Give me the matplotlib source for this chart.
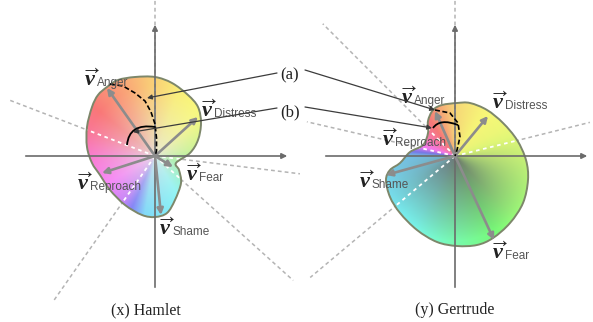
import numpy as np
import matplotlib.pyplot as plt
from matplotlib.path import Path
from matplotlib.patches import PathPatch, ConnectionPatch
from matplotlib.colors import hsv_to_rgb

plt.rcParams['mathtext.fontset'] = 'custom'
plt.rcParams['mathtext.it'] = 'Liberation Serif:italic:bold'
plt.rcParams['mathtext.rm'] = 'Liberation Serif'

emotions = ['Anger', 'Distress', 'Reproach', 'Fear', 'Shame']

# emotion vectors (x, y) from each character's origin; None = not drawn
hamlet_vectors = [(-48, 68), (43, 39), (-53, -17), (18, -11), (6, -59)]
gertrude_vectors = [(-20, 45), (33, 40), None, (39, -84), (-69, -19)]

# where each vector label starts (left edge of the v, vertical centre)
hamlet_labels = [(-71, 77), (46, 46), (-78, -27), (31, -18), (4, -72)]
gertrude_labels = [(-54, 59), (37, 54), (-73, 17), (37, -96), (-96, -25)]

# outline of the combined emotion shape
hamlet_outline = [(-48, 69), (-37, 76), (-20, 79), (0, 79), (17, 73), (33, 61),
                  (43, 49), (46, 33), (43, 16), (35, 3), (21, -7), (24, -14),
                  (26, -27), (20, -44), (12, -57), (0, -61), (-13, -59),
                  (-30, -49), (-45, -34), (-55, -19), (-63, -7), (-68, 9),
                  (-68, 29), (-63, 49), (-57, 61)]
gertrude_outline = [(-22, 46), (-13, 51), (2, 53), (15, 53), (32, 46), (48, 33),
                    (62, 16), (71, -4), (73, -24), (68, -47), (55, -67),
                    (38, -82), (22, -89), (2, -90), (-18, -86), (-38, -74),
                    (-55, -57), (-65, -41), (-69, -24), (-65, -14), (-55, -7),
                    (-45, 4), (-32, 11), (-27, 23), (-27, 35)]

# (a) dashed lobe edge and (b) rotation arc (start, bend, end)
hamlet_lobe = [(-45, 72), (-32, 70), (-20, 63), (-10, 55), (-4, 44), (0, 32),
               (1.5, 18), (1.5, 5), (0, 0)]
gertrude_lobe = [(-20, 46), (-5, 43), (3, 33), (5, 19), (2, 6), (0, 0)]
hamlet_arc = [(0, 29), (-26, 33), (-28, 11)]
gertrude_arc = [(3, 31), (-15, 38), (-22, 28)]

# directions of the dotted reference lines (degrees, length)
hamlet_rays = [(159, 158), (-7, 146), (-42, 186), (-125, 176), (90, 156)]
gertrude_rays = [(135, 187), (167, 152), (14, 139), (-140, 189), (90, 156)]

titles = ['(x) Hamlet', '(y) Gertrude']

# hue around the wheel for each panel
hamlet_hue = ([-180, -150, -125, -100, -60, -20, 10, 40, 70, 95, 115, 135, 160, 180],
              [320, 300, 275, 195, 180, 130, 85, 62, 55, 38, 20, 5, -15, -40])
gertrude_hue = ([-180, -150, -120, -90, -45, 0, 30, 60, 90, 110, 125, 150, 165, 180],
                [200, 188, 175, 145, 105, 80, 65, 58, 45, 20, 0, -30, -60, -160])

AXIS = '#6b6b6b'
VEC = '#8c8c8c'
EDGE = '#7d876a'


def smooth_path(pts):
    p = np.array(pts, float)
    n = len(p)
    verts = [p[0]]
    codes = [Path.MOVETO]
    for i in range(n):
        p0, p1, p2, p3 = p[i - 1], p[i], p[(i + 1) % n], p[(i + 2) % n]
        verts += [p1 + (p2 - p0) / 6, p2 - (p3 - p1) / 6, p2]
        codes += [Path.CURVE4] * 3
    return Path(verts, codes)


def draw_panel(ax, vectors, labels, outline, lobe, arc, rays, hue, dark, title):
    # dotted reference lines under the shape
    for ang, length in rays:
        a = np.radians(ang)
        ax.plot([0, length * np.cos(a)], [0, length * np.sin(a)], color='#b4b4b4',
                lw=1.1, dashes=(2.5, 2), zorder=1)

    # coloured emotion shape
    path = smooth_path(outline)
    g = np.linspace(-110, 110, 441)
    X, Y = np.meshgrid(g, g)
    th = np.degrees(np.arctan2(Y, X))
    r = np.hypot(X, Y)
    h = np.mod(np.interp(th, hue[0], hue[1]), 360) / 360
    rgb = hsv_to_rgb(np.dstack([h, np.full_like(h, 0.52), np.full_like(h, 0.98)]))
    if dark:
        # shadow sits in the lower half, around the origin
        w = np.clip(0.35 - 0.9 * np.sin(np.radians(th)), 0.05, 1)
        t = np.clip(r / 85, 0, 1)
        d = ((1 - t) ** 0.9 * w)[..., None] * 0.9
        rgb = rgb * (1 - d) + d * 0.42
    else:
        t = np.clip(r / 70, 0, 1)[..., None]
        rgb = rgb * t ** 0.6 + (1 - t ** 0.6) * 0.9
    im = ax.imshow(rgb, extent=(-110, 110, -110, 110), origin='lower',
                   interpolation='bilinear', zorder=2)
    patch = PathPatch(path, facecolor='none', edgecolor=EDGE, lw=1.4, zorder=3)
    ax.add_patch(patch)
    im.set_clip_path(patch)

    # white dotted lines inside the shape
    for ang, length in rays:
        a = np.radians(ang)
        ln, = ax.plot([0, length * np.cos(a)], [0, length * np.sin(a)], color='white',
                      lw=1.3, dashes=(2, 2), zorder=2.5)
        ln.set_clip_path(patch)

    # axes with arrowheads
    ax.annotate('', xy=(135, 0), xytext=(-132, 0), zorder=4,
                arrowprops=dict(arrowstyle='-|>', color=AXIS, lw=1.2, mutation_scale=8))
    ax.annotate('', xy=(0, 134), xytext=(0, -134), zorder=4,
                arrowprops=dict(arrowstyle='-|>', color=AXIS, lw=1.2, mutation_scale=8))

    # emotion vectors
    for v in vectors:
        if v is None:
            continue
        ax.annotate('', xy=v, xytext=(0, 0), zorder=5,
                    arrowprops=dict(arrowstyle='-|>', color=VEC, lw=1.9,
                                    mutation_scale=9, shrinkA=0, shrinkB=0))

    lx, ly = zip(*lobe)
    ax.plot(lx, ly, color='black', lw=1.2, dashes=(3, 1.5), zorder=5)
    ax.add_patch(PathPatch(Path(arc, [Path.MOVETO, Path.CURVE3, Path.CURVE3]),
                           facecolor='none', edgecolor='black', lw=1.3, zorder=5))

    for name, (x, y) in zip(emotions, labels):
        ax.text(x, y, r'$\overrightarrow{v}$', fontsize=16, color='#222222',
                ha='left', va='center', zorder=6)
        ax.text(x + 13, y - 4, name, fontsize=8.5, color='#555555',
                family='Liberation Sans', ha='left', va='center', zorder=6)

    ax.text(0 if dark else -9, -154, title, fontsize=11.5, family='Liberation Serif',
            ha='center', va='center', color='#222222')


fig = plt.figure(figsize=(5.93, 3.22), dpi=100)
axL = fig.add_axes([0, 0, 300 / 593, 1])
axR = fig.add_axes([300 / 593, 0, 293 / 593, 1])

draw_panel(axL, hamlet_vectors, hamlet_labels, hamlet_outline, hamlet_lobe,
           hamlet_arc, hamlet_rays, hamlet_hue, False, titles[0])
draw_panel(axR, gertrude_vectors, gertrude_labels, gertrude_outline, gertrude_lobe,
           gertrude_arc, gertrude_rays, gertrude_hue, True, titles[1])

for ax, xr in ((axL, (-155, 145)), (axR, (-155, 138))):
    ax.set_xlim(*xr)
    ax.set_ylim(-166, 156)
    ax.set_aspect('auto')
    ax.axis('off')

# (a) and (b) callouts pointing into both panels
axL.text(135, 81, '(a)', fontsize=12, family='Liberation Serif', ha='center',
         va='center', color='#222222')
axL.text(135, 44, '(b)', fontsize=12, family='Liberation Serif', ha='center',
         va='center', color='#222222')
callouts = [((122, 83), (-8, 58)), ((150, 86), (-20, 46)),
            ((122, 48), (-22, 24)), ((150, 49), (-23, 28))]
for i, (start, end) in enumerate(callouts):
    target = axL if i % 2 == 0 else axR
    con = ConnectionPatch(xyA=start, coordsA=axL.transData, xyB=end,
                          coordsB=target.transData, arrowstyle='-|>',
                          color='#3c3c3c', lw=0.9, mutation_scale=7,
                          shrinkA=0, shrinkB=0, zorder=7)
    fig.add_artist(con)

fig.savefig('out.png', dpi=100)
